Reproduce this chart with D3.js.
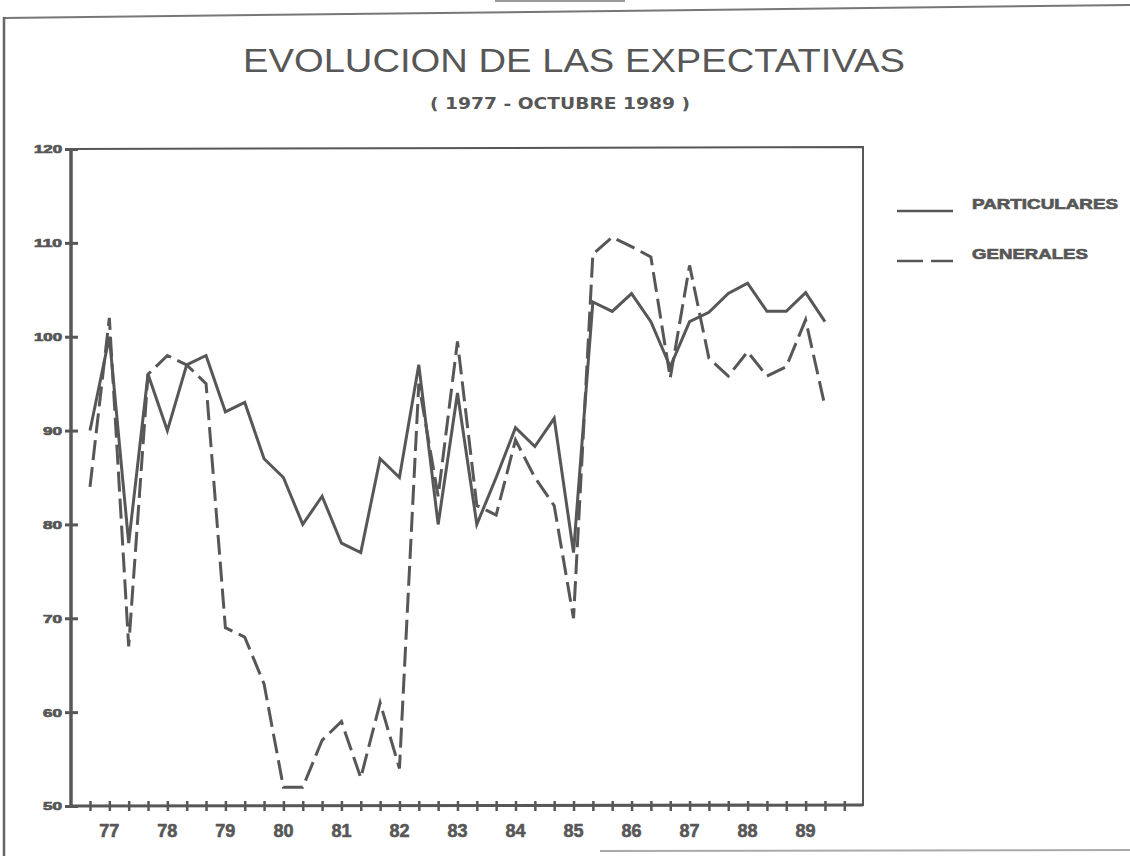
<!DOCTYPE html>
<html>
<head>
<meta charset="utf-8">
<script src="https://cdn.jsdelivr.net/npm/d3@7"></script>
<style>
  html, body { margin: 0; padding: 0; background: #fff; }
  svg { display: block; }
</style>
</head>
<body>
<svg id="chart" width="1130" height="856"></svg>
<script>
// ---- data ----
const title = "EVOLUCION DE LAS EXPECTATIVAS";
const subtitle = "( 1977 - OCTUBRE 1989 )";
const yearLabels = ["77","78","79","80","81","82","83","84","85","86","87","88","89"];
const yTicks = [50, 60, 70, 80, 90, 100, 110, 120];
const seriesNames = ["PARTICULARES", "GENERALES"];
const particulares = [90,100,78,96,90,97,98,92,93,87,85,80,83,78,77,87,85,97,80,94,80,85,90.3,88.3,91.3,77,103.7,102.7,104.6,101.6,96.8,101.6,102.6,104.6,105.7,102.7,102.7,104.7,101.6];
const generales    = [84,102,67,96,98,97,95,69,68,63,52,52,57,59,53,61,54,95,83,99.5,82,81,89,85,82,70,108.8,110.6,109.6,108.5,95.6,107.6,97.7,95.8,98.4,95.8,96.8,101.8,92.6];
const nTicks = 40; // survey ticks on x axis

// ---- drawing ----
(function () {
const ink = "#575757";
const svg = d3.select("#chart");

const x = d3.scaleLinear().domain([0, nTicks - 1]).range([90, 844.3]);
const y = d3.scaleLinear().domain([50, 120]).range([806, 149]);
const pLeft = 71, pRight = 863, pTop = y(120), pBottom = y(50);

// page border (scanned sheet)
svg.append("line").attr("x1", 4).attr("y1", 18).attr("x2", 1130).attr("y2", 5)
  .attr("stroke", "#777").attr("stroke-width", 2);
svg.append("line").attr("x1", 4).attr("y1", 17).attr("x2", 4).attr("y2", 856)
  .attr("stroke", "#666").attr("stroke-width", 2.5);
svg.append("line").attr("x1", 495).attr("y1", 1).attr("x2", 625).attr("y2", 1)
  .attr("stroke", "#999").attr("stroke-width", 2);
svg.append("line").attr("x1", 600).attr("y1", 851).attr("x2", 1130).attr("y2", 850)
  .attr("stroke", "#aaa").attr("stroke-width", 2);

// title
svg.append("text").attr("x", 243).attr("y", 72).text(title)
  .attr("font-family", "Liberation Sans, Arial, sans-serif").attr("font-size", 34)
  .attr("fill", ink).attr("textLength", 662).attr("lengthAdjust", "spacingAndGlyphs");
svg.append("text").attr("x", 430).attr("y", 109).text(subtitle)
  .attr("font-family", "Liberation Sans Narrow, DejaVu Sans Condensed, sans-serif")
  .attr("font-size", 16).attr("font-weight", "bold")
  .attr("fill", ink).attr("textLength", 260).attr("lengthAdjust", "spacingAndGlyphs");

// plot frame (top + right)
svg.append("path")
  .attr("d", `M${pLeft},${pTop}L${pRight},${pTop - 2}L${pRight},${pBottom}`)
  .attr("fill", "none").attr("stroke", ink).attr("stroke-width", 2);

// y axis
const yAxis = d3.axisLeft(y).tickValues(yTicks).tickSize(0).tickPadding(0);
const gy = svg.append("g").attr("transform", `translate(${pLeft},0)`).call(yAxis);
gy.select(".domain").remove();
gy.selectAll(".tick text").remove();
gy.selectAll(".tick").append("line").attr("x1", -6).attr("x2", 7)
  .attr("stroke", ink).attr("stroke-width", 3);
gy.selectAll(".tick").append("text")
  .attr("x", -9).attr("dy", "0.36em").attr("text-anchor", "end")
  .text(d => d)
  .attr("font-family", "Liberation Sans, Arial, sans-serif")
  .attr("font-size", 11).attr("font-weight", "bold")
  .attr("fill", ink).attr("stroke", ink).attr("stroke-width", 0.7)
  .attr("textLength", d => String(d).length === 3 ? 28 : 19)
  .attr("lengthAdjust", "spacingAndGlyphs");
svg.append("line").attr("x1", pLeft).attr("x2", pLeft).attr("y1", pTop - 1).attr("y2", pBottom + 2)
  .attr("stroke", ink).attr("stroke-width", 3.5);

// x axis
const xAxis = d3.axisBottom(x).tickValues(d3.range(nTicks)).tickSize(0).tickFormat("");
const gx = svg.append("g").attr("transform", `translate(0,${pBottom})`).call(xAxis);
gx.select(".domain").remove();
gx.selectAll(".tick").append("line").attr("y1", -5).attr("y2", 5)
  .attr("stroke", ink).attr("stroke-width", 2.5);
svg.append("line").attr("x1", pLeft).attr("x2", pRight).attr("y1", pBottom).attr("y2", pBottom - 1)
  .attr("stroke", ink).attr("stroke-width", 3);

svg.append("g").selectAll("text").data(yearLabels).join("text")
  .attr("x", (d, i) => x(1 + 3 * i)).attr("y", 837)
  .attr("text-anchor", "middle").text(d => d)
  .attr("font-family", "Liberation Sans, Arial, sans-serif")
  .attr("font-size", 18).attr("font-weight", "bold")
  .attr("fill", ink).attr("stroke", ink).attr("stroke-width", 0.6);

// lines
const line = d3.line().x((d, i) => x(i)).y(d => y(d));
svg.append("path").datum(particulares).attr("d", line)
  .attr("fill", "none").attr("stroke", ink).attr("stroke-width", 3)
  .attr("stroke-linejoin", "miter");
svg.append("path").datum(generales).attr("d", line)
  .attr("fill", "none").attr("stroke", ink).attr("stroke-width", 3)
  .attr("stroke-dasharray", "20,7").attr("stroke-linejoin", "miter");

// legend
const lg = svg.append("g");
lg.append("line").attr("x1", 897).attr("x2", 953).attr("y1", 211).attr("y2", 211)
  .attr("stroke", ink).attr("stroke-width", 2.5);
lg.append("line").attr("x1", 897).attr("x2", 953).attr("y1", 261).attr("y2", 261)
  .attr("stroke", ink).attr("stroke-width", 2.5).attr("stroke-dasharray", "26,8");
lg.selectAll("text").data(seriesNames).join("text")
  .attr("x", 972).attr("y", (d, i) => 209 + 50 * i)
  .text(d => d)
  .attr("font-family", "Liberation Sans, Arial, sans-serif")
  .attr("font-size", 15).attr("font-weight", "bold")
  .attr("fill", ink).attr("stroke", ink).attr("stroke-width", 0.7)
  .attr("textLength", (d, i) => i === 0 ? 146 : 116)
  .attr("lengthAdjust", "spacingAndGlyphs");
})();
</script>
</body>
</html>
